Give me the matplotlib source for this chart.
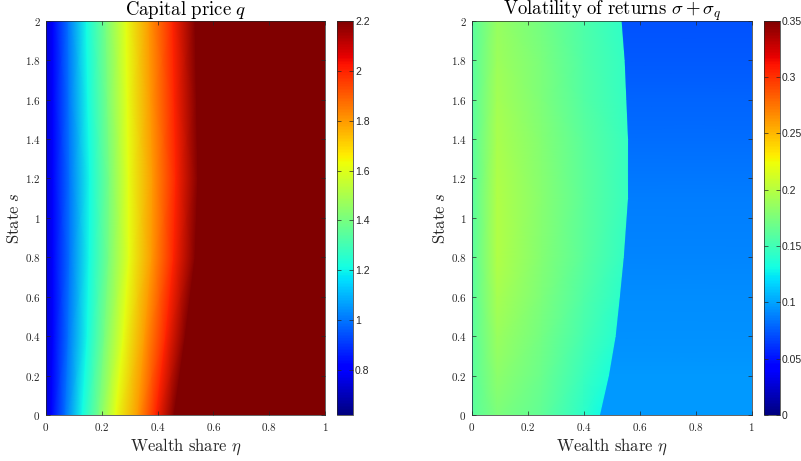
import numpy as np
import matplotlib.pyplot as plt
from matplotlib.ticker import FuncFormatter

plt.rcParams['mathtext.fontset'] = 'cm'
plt.rcParams['font.family'] = ['Liberation Sans', 'DejaVu Sans']

# ---- Capital price q: eta position where q hits each level, per state s
s_rows = [0.0, 0.4, 0.8, 1.2, 1.6, 2.0]
q_levels = [0.74, 0.82, 1.0, 1.21, 1.4, 1.61, 1.8, 2.0, 2.2, 2.2]
eta_q = [
    [0, 0.020, 0.070, 0.130, 0.190, 0.250, 0.330, 0.395, 0.460, 1],
    [0, 0.025, 0.080, 0.148, 0.210, 0.278, 0.355, 0.430, 0.500, 1],
    [0, 0.025, 0.085, 0.155, 0.225, 0.298, 0.380, 0.458, 0.535, 1],
    [0, 0.025, 0.085, 0.157, 0.227, 0.296, 0.383, 0.466, 0.545, 1],
    [0, 0.025, 0.082, 0.150, 0.220, 0.292, 0.375, 0.460, 0.540, 1],
    [0, 0.025, 0.080, 0.145, 0.215, 0.288, 0.370, 0.455, 0.535, 1],
]

# ---- Volatility sigma + sigma_q, per state s
s_vol = [0.0, 0.2, 0.4, 0.6, 0.8, 1.1, 1.4, 1.6, 1.8, 2.0]
eta_bound = [0.460, 0.492, 0.516, 0.531, 0.545, 0.560, 0.560, 0.554, 0.548, 0.537]
vol_edge = [0.10] * 10                      # eta = 0
vol_near = [0.16] * 10                      # eta = 0.004
vol_peak = [0.176, 0.182, 0.188, 0.193, 0.197, 0.198, 0.195, 0.192, 0.190, 0.187]  # eta = 0.09
vol_mid = [0.163, 0.167, 0.172, 0.176, 0.179, 0.180, 0.178, 0.176, 0.174, 0.172]   # eta = 0.25
vol_late = [0.142, 0.147, 0.152, 0.157, 0.160, 0.162, 0.160, 0.158, 0.156, 0.155]  # eta = 0.4
vol_left = [0.131, 0.135, 0.139, 0.142, 0.144, 0.145, 0.145, 0.144, 0.144, 0.143]  # just left of boundary
vol_right = [0.097, 0.096, 0.094, 0.092, 0.090, 0.087, 0.082, 0.079, 0.075, 0.072]  # right of boundary

fig = plt.figure(figsize=(8.01, 4.61), dpi=100)

ax1 = fig.add_axes([0.0574, 0.0998, 0.3483, 0.855])
cax1 = fig.add_axes([0.4213, 0.0998, 0.0194, 0.855])
ax2 = fig.add_axes([0.5893, 0.0998, 0.3490, 0.855])
cax2 = fig.add_axes([0.9538, 0.0998, 0.0200, 0.855])

# left panel
X1 = np.array(eta_q)
Y1 = np.repeat(np.array(s_rows)[:, None], X1.shape[1], axis=1)
C1 = np.tile(q_levels, (len(s_rows), 1))
m1 = ax1.pcolormesh(X1, Y1, C1, shading='gouraud', cmap='jet', vmin=0.62, vmax=2.2)

# right panel
eb = np.array(eta_bound)
n = len(s_vol)
X2 = np.column_stack([np.zeros(n), np.full(n, 0.004), np.full(n, 0.09), np.full(n, 0.25),
                      np.full(n, 0.4), eb - 0.002, eb, np.ones(n)])
Y2 = np.repeat(np.array(s_vol)[:, None], X2.shape[1], axis=1)
C2 = np.column_stack([vol_edge, vol_near, vol_peak, vol_mid, vol_late, vol_left,
                      vol_right, vol_right])
m2 = ax2.pcolormesh(X2, Y2, C2, shading='gouraud', cmap='jet', vmin=0, vmax=0.35)

tex = FuncFormatter(lambda v, p: f'${v:g}$')
for ax, title in [(ax1, r'$\mathrm{Capital\ price}\ q$'),
                  (ax2, r'$\mathrm{Volatility\ of\ returns}\ \sigma+\sigma_q$')]:
    ax.set_xlim(0, 1)
    ax.set_ylim(0, 2)
    ax.set_xticks(np.arange(0, 1.01, 0.2))
    ax.set_yticks(np.arange(0, 2.01, 0.2))
    ax.xaxis.set_major_formatter(tex)
    ax.yaxis.set_major_formatter(tex)
    ax.tick_params(direction='in', length=3, width=0.5, top=True, right=True,
                   labelsize=8, colors='#262626', pad=4)
    for sp in ax.spines.values():
        sp.set_linewidth(0.5)
        sp.set_color('#262626')
    ax.set_xlabel(r'$\mathrm{Wealth\ share}\ \eta$', fontsize=12, color='#262626', labelpad=3)
    ax.set_ylabel(r'$\mathrm{State}\ s$', fontsize=12, color='#262626', labelpad=2)
    ax.set_title(title, fontsize=13.5, color='black', pad=4)

cb1 = fig.colorbar(m1, cax=cax1, ticks=[0.8, 1, 1.2, 1.4, 1.6, 1.8, 2, 2.2])
cb2 = fig.colorbar(m2, cax=cax2, ticks=[0, 0.05, 0.1, 0.15, 0.2, 0.25, 0.3, 0.35])
for cb in (cb1, cb2):
    cb.ax.yaxis.set_major_formatter(FuncFormatter(lambda v, p: f'{v:g}'))
    cb.ax.tick_params(direction='in', length=3, width=0.5, labelsize=7.5, colors='#262626',
                      pad=1.5, left=True, right=True)
    cb.outline.set_linewidth(0.5)
    cb.outline.set_edgecolor('#262626')

fig.savefig('out.png', dpi=100)
